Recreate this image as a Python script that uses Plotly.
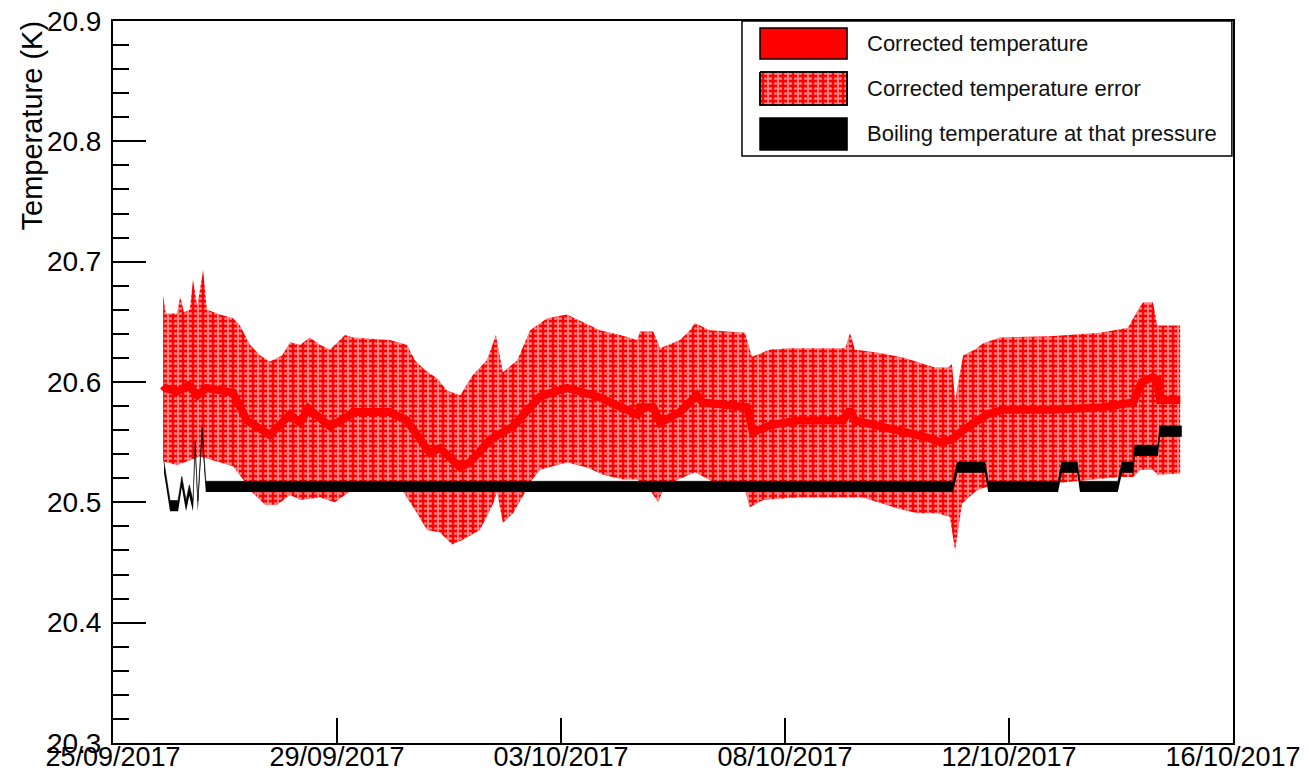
import pandas as pd
import plotly.graph_objects as go

# ---------------- data (days since 25/09/2017 00:00, temperatures in K) ----------------
T0 = pd.Timestamp("2017-09-25 00:00")

tick_labels = ["25/09/2017", "29/09/2017", "03/10/2017", "08/10/2017", "12/10/2017", "16/10/2017"]

center_days = [1.44, 1.48, 1.70, 1.91, 2.00, 2.08, 2.26, 2.75, 3.01, 3.44,
               3.82, 4.01, 4.16, 4.57, 4.89, 5.00, 5.69, 6.01, 6.44, 6.63,
               7.01, 7.19, 7.57, 8.00, 8.51, 9.01, 9.58, 10.06, 10.33, 10.38,
               10.63, 10.76, 11.13, 11.45, 11.56, 12.39, 12.50, 12.82, 13.33, 14.19,
               14.32, 14.41, 14.88, 15.39, 15.76, 16.01, 16.23, 16.44, 16.89, 17.19,
               18.13, 19.06, 19.63, 19.79, 20.00, 20.08, 20.13, 20.51]
center_vals = [20.597, 20.595, 20.592, 20.597, 20.593, 20.589, 20.595, 20.591, 20.568, 20.556,
               20.573, 20.566, 20.578, 20.563, 20.571, 20.575, 20.575, 20.568, 20.541, 20.545,
               20.529, 20.533, 20.552, 20.563, 20.588, 20.595, 20.588, 20.578, 20.573, 20.579,
               20.579, 20.566, 20.575, 20.589, 20.583, 20.579, 20.558, 20.564, 20.568, 20.568,
               20.577, 20.568, 20.564, 20.558, 20.554, 20.550, 20.552, 20.560, 20.573, 20.577,
               20.577, 20.579, 20.583, 20.600, 20.604, 20.602, 20.585, 20.585]

upper_days = [1.44, 1.49, 1.70, 1.76, 1.83, 1.94, 2.00, 2.08, 2.19, 2.26,
              2.51, 2.75, 2.88, 3.07, 3.26, 3.44, 3.67, 3.82, 4.01, 4.19,
              4.38, 4.57, 4.85, 5.00, 5.69, 6.01, 6.16, 6.35, 6.58, 6.76,
              7.01, 7.25, 7.51, 7.68, 7.81, 8.08, 8.32, 8.64, 9.01, 9.63,
              10.01, 10.33, 10.38, 10.63, 10.76, 11.13, 11.32, 11.41, 11.69, 12.35,
              12.48, 12.82, 13.19, 14.23, 14.32, 14.41, 14.88, 15.35, 15.63, 15.91,
              16.16, 16.23, 16.29, 16.44, 16.66, 16.81, 17.13, 18.07, 19.01, 19.53,
              19.72, 19.81, 20.00, 20.08, 20.51]
upper_vals = [20.672, 20.657, 20.657, 20.671, 20.658, 20.660, 20.685, 20.663, 20.693, 20.660,
              20.656, 20.653, 20.647, 20.631, 20.622, 20.617, 20.622, 20.633, 20.631, 20.637,
              20.631, 20.627, 20.639, 20.637, 20.635, 20.631, 20.618, 20.610, 20.603, 20.593,
              20.589, 20.606, 20.618, 20.639, 20.608, 20.618, 20.643, 20.653, 20.656, 20.643,
              20.639, 20.635, 20.642, 20.642, 20.628, 20.635, 20.643, 20.649, 20.643, 20.641,
              20.621, 20.627, 20.628, 20.628, 20.641, 20.627, 20.624, 20.620, 20.616, 20.612,
              20.612, 20.615, 20.585, 20.622, 20.627, 20.632, 20.637, 20.638, 20.641, 20.645,
              20.660, 20.666, 20.666, 20.647, 20.647]

lower_days = [1.44, 1.70, 1.94, 2.13, 2.75, 2.94, 3.07, 3.35, 3.58, 3.82,
              4.01, 4.38, 4.66, 4.85, 4.94, 5.88, 6.01, 6.20, 6.39, 6.63,
              6.86, 7.06, 7.38, 7.63, 7.70, 7.81, 8.00, 8.17, 8.36, 8.51,
              9.01, 9.39, 9.69, 10.06, 10.33, 10.57, 10.72, 10.85, 11.41, 11.88,
              12.35, 12.44, 12.69, 13.33, 14.56, 15.20, 15.58, 15.95, 16.19, 16.29,
              16.42, 16.70, 16.89, 18.20, 19.38, 19.63, 19.76, 20.00, 20.08, 20.51]
lower_vals = [20.534, 20.531, 20.535, 20.538, 20.530, 20.519, 20.510, 20.498, 20.498, 20.506,
              20.502, 20.504, 20.500, 20.506, 20.509, 20.514, 20.504, 20.491, 20.477, 20.475,
              20.465, 20.469, 20.477, 20.499, 20.509, 20.483, 20.491, 20.504, 20.519, 20.527,
              20.533, 20.529, 20.523, 20.519, 20.519, 20.510, 20.500, 20.514, 20.525, 20.514,
              20.510, 20.496, 20.502, 20.504, 20.504, 20.495, 20.491, 20.491, 20.488, 20.460,
              20.499, 20.510, 20.513, 20.516, 20.521, 20.521, 20.527, 20.527, 20.523, 20.524]

boil_days = [1.456, 1.57, 1.72, 1.79, 1.87, 1.93, 2.00, 2.04, 2.09, 2.17,
             2.24, 16.25, 16.33, 16.85, 16.91, 18.22, 18.29, 18.58, 18.63, 19.34,
             19.42, 19.63, 19.66, 20.09, 20.13, 20.54]
boil_vals = [20.529, 20.497, 20.497, 20.517, 20.497, 20.510, 20.497, 20.546, 20.497, 20.558,
             20.513, 20.513, 20.529, 20.529, 20.513, 20.513, 20.529, 20.529, 20.513, 20.513,
             20.529, 20.529, 20.543, 20.543, 20.559, 20.559]

# ---------------- helpers / style ----------------
def to_time(days):
    return [T0 + pd.Timedelta(days=d) for d in days]

BOIL_HALF = 0.0045  # drawn thickness of the boiling band
FONT = "Liberation Sans, Arial, Helvetica, sans-serif"
RED = "#ff0000"

dots = dict(shape=".", fgcolor="white", bgcolor=RED, size=5, solidity=0.3)
stripes = dict(shape="|", fgcolor="white", bgcolor="rgba(0,0,0,0)", size=10, solidity=0.2)

fig = go.Figure()

# error band (dotted red) + overlay of vertical white stripes
for pat, fc in ((dots, RED), (stripes, "rgba(0,0,0,0)")):
    fig.add_trace(go.Scatter(x=to_time(lower_days), y=lower_vals, mode="lines",
                             line=dict(width=0, color=RED), showlegend=False, hoverinfo="skip"))
    fig.add_trace(go.Scatter(x=to_time(upper_days), y=upper_vals, mode="lines",
                             line=dict(width=0, color=RED), fill="tonexty", fillcolor=fc,
                             fillpattern=pat, showlegend=False,
                             name="Corrected temperature error"))

# corrected temperature
fig.add_trace(go.Scatter(x=to_time(center_days), y=center_vals, mode="lines",
                         line=dict(color=RED, width=8), showlegend=False,
                         name="Corrected temperature"))

# boiling temperature (thick black band)
fig.add_trace(go.Scatter(x=to_time(boil_days), y=[v - BOIL_HALF for v in boil_vals], mode="lines",
                         line=dict(width=0, color="black"), showlegend=False, hoverinfo="skip"))
fig.add_trace(go.Scatter(x=to_time(boil_days), y=[v + BOIL_HALF for v in boil_vals], mode="lines",
                         line=dict(width=0.6, color="black"), fill="tonexty", fillcolor="black",
                         showlegend=False, name="Boiling temperature at that pressure"))

# ---------------- manual legend ----------------
LX0, LX1 = 0.5616, 0.999
LY0, LY1 = 0.813, 1.0
SX0, SX1 = 0.5777, 0.6554
rows = [(0.9903, 0.9474), (0.9294, 0.8837), (0.8657, 0.8213)]
labels = ["Corrected temperature", "Corrected temperature error", "Boiling temperature at that pressure"]
TX = 0.6714

shapes = [dict(type="rect", xref="paper", yref="paper", x0=LX0, x1=LX1, y0=LY0, y1=LY1,
               line=dict(color="black", width=1.5), fillcolor="white", layer="below"),
          dict(type="rect", xref="paper", yref="paper", x0=SX0, x1=SX1, y0=rows[0][1], y1=rows[0][0],
               line=dict(color="black", width=1.5), fillcolor=RED),
          dict(type="rect", xref="paper", yref="paper", x0=SX0, x1=SX1, y0=rows[2][1], y1=rows[2][0],
               line=dict(color="black", width=1.5), fillcolor="black")]

yt, yb = rows[1]
sw_x = [SX0, SX1, SX1, SX0, SX0]
sw_y = [yt, yt, yb, yb, yt]
fig.add_trace(go.Scatter(x=sw_x, y=sw_y, xaxis="x2", yaxis="y2", mode="lines", fill="toself",
                         fillcolor=RED, fillpattern=dots, line=dict(color="black", width=1.5),
                         showlegend=False, hoverinfo="skip"))
fig.add_trace(go.Scatter(x=sw_x, y=sw_y, xaxis="x2", yaxis="y2", mode="lines", fill="toself",
                         fillcolor="rgba(0,0,0,0)", fillpattern=stripes,
                         line=dict(color="black", width=1.5),
                         showlegend=False, hoverinfo="skip"))

annotations = []
for (a, b), lab in zip(rows, labels):
    annotations.append(dict(text=lab, xref="paper", yref="paper", x=TX, y=(a + b) / 2,
                            xanchor="left", yanchor="middle", showarrow=False,
                            font=dict(family=FONT, size=22, color="#111")))
annotations.append(dict(text="Temperature (K)", xref="paper", yref="paper", x=-0.072, y=1.004,
                        xanchor="center", yanchor="top", textangle=-90, showarrow=False,
                        font=dict(family=FONT, size=29, color="black")))

# ---------------- axes ----------------
x_start = pd.Timestamp("2017-09-25 12:00")
x_end = pd.Timestamp("2017-10-16 12:00")
tick_step = (x_end - x_start) / (len(tick_labels) - 1)
tickvals = [x_start + k * tick_step for k in range(len(tick_labels))]

# page body has an 8px margin: figure is shifted, so size/margins compensate
fig.update_layout(
    width=1301, height=765,
    margin=dict(l=105, r=76, t=13, b=30),
    paper_bgcolor="white", plot_bgcolor="white",
    showlegend=False,
    font=dict(family=FONT, color="black"),
    shapes=shapes, annotations=annotations,
    xaxis=dict(type="date", range=[x_start, x_end], tickvals=tickvals, ticktext=tick_labels,
               ticks="inside", ticklen=25, tickwidth=2, tickcolor="black",
               showline=True, linewidth=2, linecolor="black", mirror=True,
               showgrid=False, zeroline=False, automargin=False, ticklabelstandoff=-11,
               ticklabeloverflow="allow",
               tickfont=dict(family=FONT, size=27, color="black")),
    yaxis=dict(range=[20.3, 20.9], tick0=20.3, dtick=0.1, tickformat=".1f",
               ticks="inside", ticklen=33, tickwidth=2, tickcolor="black",
               minor=dict(dtick=0.02, ticks="inside", ticklen=16, tickwidth=2,
                          tickcolor="black", showgrid=False),
               showline=True, linewidth=2, linecolor="black", mirror=True,
               showgrid=False, zeroline=False, automargin=False, ticklabelstandoff=4,
               ticklabeloverflow="allow",
               tickfont=dict(family=FONT, size=28, color="black")),
    xaxis2=dict(overlaying="x", anchor="y2", range=[0, 1], visible=False),
    yaxis2=dict(overlaying="y", anchor="x2", range=[0, 1], visible=False),
)

fig.write_html("out.html")
